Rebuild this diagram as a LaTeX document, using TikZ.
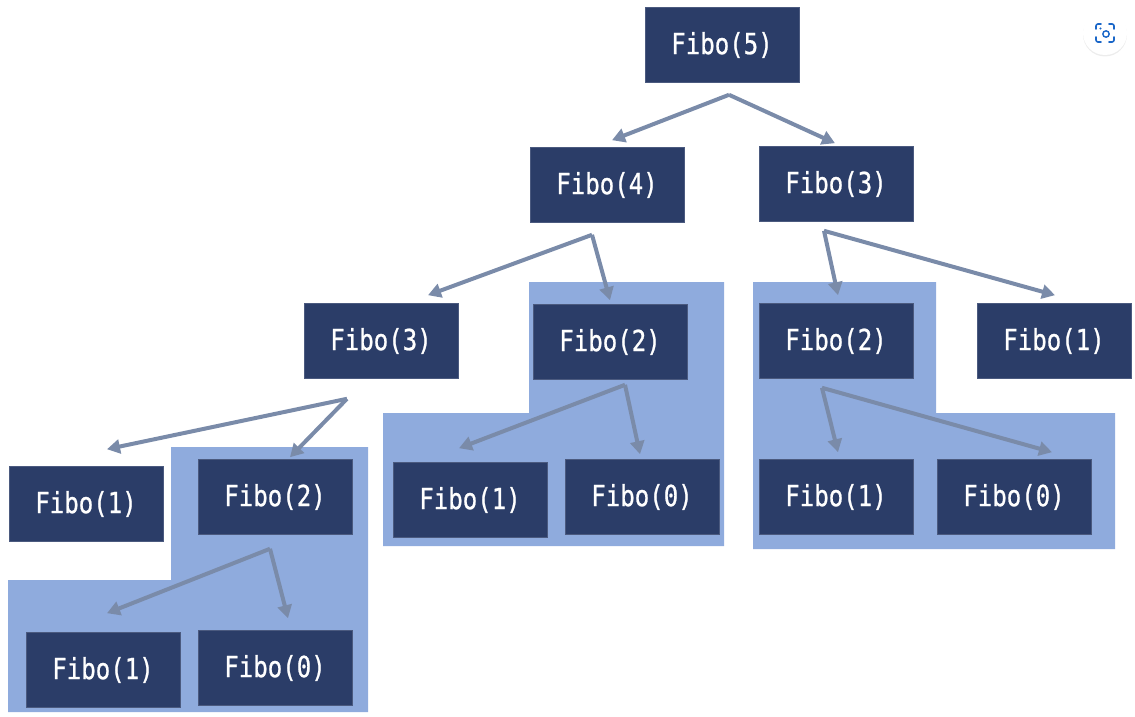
\documentclass[tikz,border=0pt]{standalone}
\usepackage{fontspec}
\usepackage{tikz}
\usetikzlibrary{positioning}
\usetikzlibrary{arrows.meta}
\usetikzlibrary{calc}
\usetikzlibrary{shadows}

\newfontfamily\fibofont[FakeStretch=0.83, FakeBold=0.8]{DejaVu Sans Mono}

\definecolor{callbox}{HTML}{2B3D68}
\definecolor{memo}{HTML}{8FABDD}
\definecolor{callarrow}{HTML}{7A8BA9}
\definecolor{lensblue}{HTML}{1A66C8}

\tikzset{
  call/.style={fill=callbox, draw=callbox!85!white, line width=0.6pt,
    minimum width=154pt, minimum height=75pt, inner sep=0pt,
    text=white, font=\fibofont\fontsize{29}{31}\selectfont},
  callto/.style={draw=callarrow, line width=4pt,
    -{Triangle[length=13pt, width=14pt]}},
  memobox/.style={fill=memo, draw=none},
}

\begin{document}
\begin{tikzpicture}[x=1pt, y=-1pt]
    \useasboundingbox (0,0) rectangle (1135,717);

    % reused subtrees
    \fill[memobox] (171,447) -- (368,447) -- (368,712) -- (8,712) -- (8,580) -- (171,580) -- cycle;
    \fill[memobox] (529,282) -- (724,282) -- (724,546) -- (383,546) -- (383,413) -- (529,413) -- cycle;
    \fill[memobox] (753,282) -- (936,282) -- (936,413) -- (1115,413) -- (1115,549) -- (753,549) -- cycle;

    \node[call] (f5) at (722,45) {Fibo(5)};
    \node[call] (f4) at (607,185) {Fibo(4)};
    \node[call] (f3r) at (836,184) {Fibo(3)};
    \node[call] (f3l) at (381,341) {Fibo(3)};
    \node[call] (f2m) at (610,342) {Fibo(2)};
    \node[call] (f2r) at (836,341) {Fibo(2)};
    \node[call] (f1r) at (1054,341) {Fibo(1)};
    \node[call] (f1l) at (86,504) {Fibo(1)};
    \node[call] (f2l) at (275,497) {Fibo(2)};
    \node[call] (f1m) at (470,500) {Fibo(1)};
    \node[call] (f0m) at (642,497) {Fibo(0)};
    \node[call] (f1rr) at (836,497) {Fibo(1)};
    \node[call] (f0r) at (1014,497) {Fibo(0)};
    \node[call] (f1b) at (103,670) {Fibo(1)};
    \node[call] (f0b) at (275,668) {Fibo(0)};

    % where the arrows leave a call
    \coordinate (s5) at ($(f5.south)+(7,12)$);
    \coordinate (s4) at ($(f4.south)+(-15,12)$);
    \coordinate (s3r) at ($(f3r.south)+(-12,9)$);
    \coordinate (s3l) at ($(f3l.south)+(-34,20)$);
    \coordinate (s2m) at ($(f2m.south)+(15,5)$);
    \coordinate (s2r) at ($(f2r.south)+(-14,9)$);
    \coordinate (s2l) at ($(f2l.south)+(-5,14)$);

    % where they end, above the callee
    \coordinate (e4) at ($(f4.north)+(5,-7)$);
    \coordinate (e3r) at ($(f3r.north)+(-1,-3)$);
    \coordinate (e3l) at ($(f3l.north)+(47,-8)$);
    \coordinate (e2m) at ($(f2m.north)+(0,-4)$);
    \coordinate (e2r) at ($(f2r.north)+(2,-8)$);
    \coordinate (e1r) at ($(f1r.north)+(1,-8)$);
    \coordinate (e1l) at ($(f1l.north)+(21,-17)$);
    \coordinate (e2l) at ($(f2l.north)+(15,-2)$);
    \coordinate (e1m) at ($(f1m.north)+(-11,-14)$);
    \coordinate (e0m) at ($(f0m.north)+(-2,-5)$);
    \coordinate (e1rr) at ($(f1rr.north)+(2,-7)$);
    \coordinate (e0r) at ($(f0r.north)+(38,-7)$);
    \coordinate (e1b) at ($(f1b.north)+(4,-19)$);
    \coordinate (e0b) at ($(f0b.north)+(13,-12)$);

    \draw[callto] (s5) -- (e4);
    \draw[callto] (s5) -- (e3r);
    \draw[callto] (s4) -- (e3l);
    \draw[callto] (s4) -- (e2m);
    \draw[callto] (s3r) -- (e2r);
    \draw[callto] (s3r) -- (e1r);
    \draw[callto] (s3l) -- (e1l);
    \draw[callto] (s3l) -- (e2l);
    \draw[callto] (s2m) -- (e1m);
    \draw[callto] (s2m) -- (e0m);
    \draw[callto] (s2r) -- (e1rr);
    \draw[callto] (s2r) -- (e0r);
    \draw[callto] (s2l) -- (e1b);
    \draw[callto] (s2l) -- (e0b);

    % lens button in the corner
    \node[circle, fill=white, minimum size=44pt, inner sep=0pt,
      drop shadow={opacity=0.15, shadow xshift=0pt, shadow yshift=-1.5pt}] (lens) at (1105,33) {};
    \draw[lensblue, line width=1.6pt, line cap=round, rounded corners=2pt]
      ($(lens)+(-9,-4)$) -- ($(lens)+(-9,-9)$) -- ($(lens)+(-4,-9)$)
      ($(lens)+(4,-9)$) -- ($(lens)+(9,-9)$) -- ($(lens)+(9,-4)$)
      ($(lens)+(9,4)$) -- ($(lens)+(9,9)$) -- ($(lens)+(4,9)$)
      ($(lens)+(-4,9)$) -- ($(lens)+(-9,9)$) -- ($(lens)+(-9,4)$);
    \draw[lensblue, line width=1.4pt] ($(lens)+(1,1)$) circle[radius=3.2];
    \fill[lensblue] ($(lens)+(-4.5,-4.5)$) circle[radius=1.2];
\end{tikzpicture}
\end{document}
